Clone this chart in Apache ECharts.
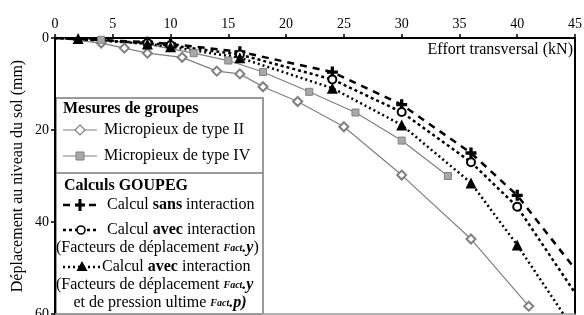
<!DOCTYPE html>
<html>
<head>
<meta charset="utf-8">
<script src="https://cdn.jsdelivr.net/npm/echarts@6/dist/echarts.min.js"></script>
<style>
  html, body { margin: 0; padding: 0; background: #fff; }
  #chart { width: 584px; height: 315px; }
</style>
</head>
<body>
<div id="chart"></div>
<script>
// valeurs (effort en kN, deplacement en mm)
var xTicks = [0, 5, 10, 15, 20, 25, 30, 35, 40, 45];
var yTicks = [0, 20, 40, 60];

var type2X = [0, 4, 6, 8, 11, 14, 16, 18, 21, 25, 30, 36, 41];
var type2Y = [0, 1.1, 2.2, 3.3, 4.2, 7.2, 7.8, 10.6, 13.8, 19.3, 29.8, 43.7, 58.3];

var type4X = [0, 4, 8, 12, 15, 18, 22, 26, 30, 34];
var type4Y = [0, 0.4, 1.4, 3.3, 4.9, 7.4, 11.7, 16.2, 22.3, 30.0];

var sansX = [0, 8, 10, 16, 24, 30, 36, 40, 45];
var sansY = [0, 0.9, 1.3, 3.0, 7.4, 14.5, 25.0, 34.2, 50.2];

var avecX = [0, 8, 10, 16, 24, 30, 36, 40, 45];
var avecY = [0, 1.1, 1.6, 3.6, 9.0, 16.1, 27.0, 36.7, 55.4];

var pressX = [0, 2, 8, 10, 16, 24, 30, 36, 40, 44];
var pressY = [0, 0.1, 1.3, 1.9, 4.3, 10.9, 18.9, 31.5, 45.0, 60];

var FONT = 'Liberation Serif';
var PLUS = 'path://M3.5,0H6.5V3.5H10V6.5H6.5V10H3.5V6.5H0V3.5H3.5Z';

// origine (et prolongement final eventuel) sans symbole
function pairs(xs, ys, lastBare) {
    return xs.map(function (x, i) {
        if (i === 0 || (lastBare && i === xs.length - 1)) {
            return { value: [x, ys[i]], symbol: 'none' };
        }
        return [x, ys[i]];
    });
}

var chart = echarts.init(document.getElementById('chart'));

var T16 = '16px ' + FONT;
var B16 = 'bold 16px ' + FONT;
var richSup = {
    b: { font: B16, fill: '#000' },
    s: { font: 'italic bold 10px ' + FONT, fill: '#000', verticalAlign: 'top', height: 18 },
    bi: { font: 'italic bold 16px ' + FONT, fill: '#000' }
};

function label(txt, x, y, align) {
    return { type: 'text', style: { text: txt, x: x, y: y, font: T16, fill: '#000',
        textAlign: align || 'left', textVerticalAlign: 'middle', rich: richSup } };
}

// legende dessinee a la main (encadre blanc dans le coin bas-gauche)
var LX = 56, LR = 263;
var legend = [
    { type: 'rect', shape: { x: LX, y: 98, width: LR - LX, height: 216 },
      style: { fill: '#fff', stroke: '#7a7a7a', lineWidth: 1.5 } },
    { type: 'line', shape: { x1: LX, y1: 173, x2: LR, y2: 173 },
      style: { stroke: '#7a7a7a', lineWidth: 1.5 } },
    { type: 'text', style: { text: 'Mesures de groupes', x: 63, y: 109, font: B16,
      fill: '#000', textVerticalAlign: 'middle' } },
    // type II
    { type: 'line', shape: { x1: 63, y1: 130, x2: 97, y2: 130 }, style: { stroke: '#808080', lineWidth: 1.2 } },
    { type: 'polygon', shape: { points: [[80, 125], [85, 130], [80, 135], [75, 130]] },
      style: { fill: '#fff', stroke: '#808080', lineWidth: 1.2 } },
    label('Micropieux de type II', 104, 130),
    // type IV
    { type: 'line', shape: { x1: 63, y1: 156, x2: 97, y2: 156 }, style: { stroke: '#808080', lineWidth: 1.2 } },
    { type: 'rect', shape: { x: 76, y: 152, width: 8, height: 8 },
      style: { fill: '#a8a8a8', stroke: '#808080', lineWidth: 1 } },
    label('Micropieux de type IV', 104, 156),
    { type: 'text', style: { text: 'Calculs GOUPEG', x: 64, y: 186, font: B16,
      fill: '#000', textVerticalAlign: 'middle' } },
    // sans interaction
    { type: 'line', shape: { x1: 63, y1: 205, x2: 97, y2: 205 },
      style: { stroke: '#000', lineWidth: 2.5, lineDash: [7, 6] } },
    { type: 'polygon', shape: { points: [[78.5, 199], [81.5, 199], [81.5, 203.5], [85, 203.5], [85, 206.5], [81.5, 206.5],
      [81.5, 211], [78.5, 211], [78.5, 206.5], [75, 206.5], [75, 203.5], [78.5, 203.5]] },
      style: { fill: '#000' } },
    label('Calcul {b|sans} interaction', 107, 205),
    // avec interaction (Fact.y)
    { type: 'line', shape: { x1: 63, y1: 230, x2: 97, y2: 230 },
      style: { stroke: '#000', lineWidth: 2.5, lineDash: [3, 3] } },
    { type: 'circle', shape: { cx: 81, cy: 230, r: 4 },
      style: { fill: '#fff', stroke: '#000', lineWidth: 1.6 } },
    label('Calcul {b|avec} interaction', 107, 230),
    label('(Facteurs de déplacement {s|Fact}{bi|.y})', 56, 248),
    // avec interaction (Fact.y + Fact.p)
    { type: 'line', shape: { x1: 63, y1: 267, x2: 100, y2: 267 },
      style: { stroke: '#000', lineWidth: 2.5, lineDash: [2, 3] } },
    { type: 'polygon', shape: { points: [[82, 261], [87.5, 271], [76.5, 271]] }, style: { fill: '#000' } },
    label('Calcul {b|avec} interaction', 102, 267),
    label('(Facteurs de déplacement {s|Fact}{bi|.y}', 56, 285),
    label('et de pression ultime {s|Fact}{bi|.p)}', 160, 303, 'center')
];

var option = {
    animation: false,
    backgroundColor: '#fff',
    textStyle: { fontFamily: FONT },
    grid: { left: 55, right: 9, top: 38, bottom: 1, show: false, containLabel: false, outerBoundsMode: 'none' },
    xAxis: [{
        type: 'value', position: 'top', min: 0, max: 45, interval: 5,
        axisLine: { show: true, lineStyle: { color: '#000', width: 2 } },
        axisTick: { show: true, inside: false, length: 4, lineStyle: { color: '#000', width: 1.5 } },
        axisLabel: { color: '#000', fontSize: 14, fontFamily: FONT, margin: 7,
            formatter: function (v) { return xTicks.indexOf(v) >= 0 ? String(v) : ''; } },
        splitLine: { show: false }
    }, {
        type: 'value', position: 'bottom', min: 0, max: 45,
        axisLine: { show: true, onZero: false, lineStyle: { color: '#9a9a9a', width: 1.5 } },
        axisTick: { show: false }, axisLabel: { show: false }, splitLine: { show: false }
    }],
    yAxis: [{
        type: 'value', inverse: true, min: 0, max: 60, interval: 20,
        name: 'Déplacement au niveau du sol (mm)', nameLocation: 'middle', nameGap: 29,
        nameMoveOverlap: false,
        nameTextStyle: { color: '#000', fontSize: 16, fontFamily: FONT },
        axisLine: { show: true, lineStyle: { color: '#000', width: 2 } },
        axisTick: { show: true, length: 4, lineStyle: { color: '#000', width: 1.5 } },
        axisLabel: { color: '#000', fontSize: 14, fontFamily: FONT, margin: 6,
            formatter: function (v) { return yTicks.indexOf(v) >= 0 ? String(v) : ''; } },
        splitLine: { show: false }
    }, {
        type: 'value', inverse: true, min: 0, max: 60, position: 'right',
        axisLine: { show: true, onZero: false, lineStyle: { color: '#000', width: 2 } },
        axisTick: { show: false }, axisLabel: { show: false }, splitLine: { show: false }
    }],
    series: [{
        name: 'Micropieux de type II', type: 'line', data: pairs(type2X, type2Y, false),
        symbol: 'emptyDiamond', symbolSize: 9,
        lineStyle: { color: '#808080', width: 1.2 },
        itemStyle: { color: '#808080', borderColor: '#808080', borderWidth: 1.2 }
    }, {
        name: 'Micropieux de type IV', type: 'line', data: pairs(type4X, type4Y, false),
        symbol: 'rect', symbolSize: 7,
        lineStyle: { color: '#808080', width: 1.2 },
        itemStyle: { color: '#a8a8a8', borderColor: '#808080', borderWidth: 1 }
    }, {
        name: 'Calcul sans interaction', type: 'line', data: pairs(sansX, sansY, true),
        symbol: PLUS, symbolSize: 11,
        lineStyle: { color: '#000', width: 2.5, type: [7, 6] },
        itemStyle: { color: '#000' }
    }, {
        name: 'Calcul avec interaction (Fact.y)', type: 'line', data: pairs(avecX, avecY, true),
        symbol: 'emptyCircle', symbolSize: 8,
        lineStyle: { color: '#000', width: 2.5, type: [3, 3] },
        itemStyle: { color: '#000', borderColor: '#000', borderWidth: 1.6 }
    }, {
        name: 'Calcul avec interaction (Fact.y, Fact.p)', type: 'line', data: pairs(pressX, pressY, true),
        symbol: 'triangle', symbolSize: 11,
        lineStyle: { color: '#000', width: 2.5, type: [2, 3] },
        itemStyle: { color: '#000' }
    }],
    graphic: [
        { type: 'text', z: 100, style: { text: 'Effort transversal (kN)', x: 573, y: 50, font: T16,
          fill: '#000', textAlign: 'right', textVerticalAlign: 'middle' } },
        { type: 'group', z: 100, children: legend }
    ]
};

chart.setOption(option);
</script>
</body>
</html>
